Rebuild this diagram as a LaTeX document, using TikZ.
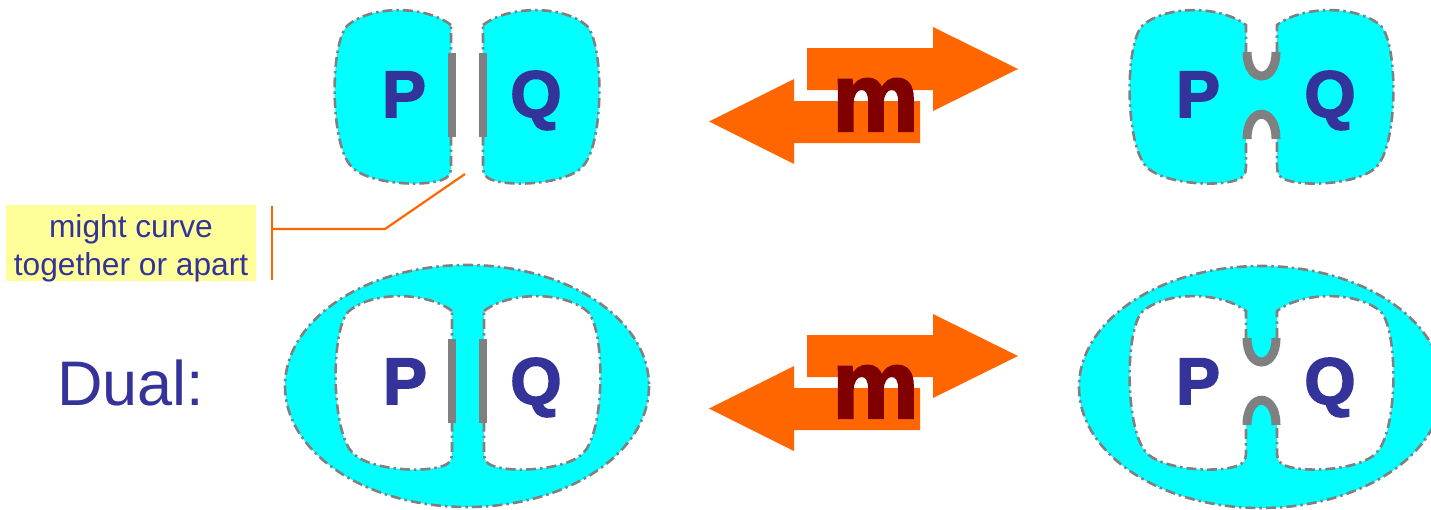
\documentclass[tikz,border=0pt]{standalone}
\usepackage{fontspec}
\setmainfont{Liberation Sans}
\newfontfamily\heavyfont[FakeBold=2.5]{Liberation Sans Bold}
\definecolor{cyanfill}{HTML}{00FFFF}
\definecolor{grayline}{HTML}{808080}
\definecolor{orangec}{HTML}{FF6600}
\definecolor{darkred}{HTML}{800000}
\definecolor{textblue}{HTML}{333399}
\definecolor{yellowbox}{HTML}{FFFF99}
\def\blobP{(451,25) .. controls (425,5) and (370,5) .. (347,26) .. controls (330,45) and (330,140) .. (350,165) .. controls (365,185) and (430,188) .. (446,178) .. controls (451,175) and (451,170) .. (451,163) -- cycle}
\def\blobQ{(483,25) .. controls (509,5) and (564,5) .. (587,26) .. controls (604,45) and (604,140) .. (584,165) .. controls (569,185) and (504,188) .. (488,178) .. controls (483,175) and (483,170) .. (483,163) -- cycle}
\def\blobPQ{(1246,53) -- (1246,25) .. controls (1220,5) and (1165,5) .. (1142,26) .. controls (1125,45) and (1125,140) .. (1145,165) .. controls (1160,185) and (1225,188) .. (1241,178) .. controls (1246,175) and (1246,170) .. (1246,163) -- (1246,138) .. controls (1246,106) and (1277,106) .. (1277,138) -- (1277,163) .. controls (1277,170) and (1277,175) .. (1282,178) .. controls (1298,188) and (1363,185) .. (1378,165) .. controls (1398,140) and (1398,45) .. (1381,26) .. controls (1358,5) and (1303,5) .. (1277,25) -- (1277,53) .. controls (1277,84) and (1246,84) .. (1246,53) -- cycle}
\begin{document}
\begin{tikzpicture}[x=1pt,y=-1pt,
  outline/.style={draw=grayline, line width=2.6pt, dash pattern=on 10pt off 4pt on 2.5pt off 4pt},
  graybar/.style={draw=grayline, line width=8pt},
  grayarc/.style={draw=grayline, line width=9pt},
  arrowfill/.style={fill=orangec},
  letter/.style={text=textblue, font=\fontsize{66}{66}\selectfont\heavyfont, inner sep=0pt, anchor=base},
  mletter/.style={text=darkred, font=\fontsize{97}{97}\selectfont\heavyfont, inner sep=0pt, anchor=base},
  labeltext/.style={text=textblue, font=\fontsize{31.7}{38}\selectfont, inner sep=0pt, anchor=base},
  labelbox/.style={fill=yellowbox, inner sep=0pt, minimum width=250pt, minimum height=76pt},
  callout/.style={draw=orangec, line width=2.2pt},
]
\useasboundingbox (0,0) rectangle (1431,509);
\clip (0,0) rectangle (1431,509);

% ---------- top left: separate P and Q ----------
\fill[cyanfill] \blobP;
\fill[cyanfill] \blobQ;
\path[outline] \blobP;
\path[outline] \blobQ;
\draw[graybar] (452,53) -- (452,137);
\draw[graybar] (482.5,53) -- (482.5,137);
\node[letter] (p1) at (404,117) {P};
\node[letter] (q1) at (536,117) {Q};

% ---------- top right: joined P and Q ----------
\fill[cyanfill] \blobPQ;
\path[outline] \blobPQ;
\draw[grayarc] (1247,52) .. controls (1247,84) and (1276,84) .. (1276,52);
\draw[grayarc] (1247,139) .. controls (1247,106) and (1276,106) .. (1276,139);
\node[letter] (p2) at (1198,117) {P};
\node[letter] (q2) at (1330,117) {Q};

% ---------- top arrows ----------
\fill[arrowfill] (807,48) -- (933,48) -- (933,27) -- (1018,69) -- (933,111) -- (933,90) -- (807,90) -- cycle;
\fill[arrowfill] (920,101) -- (794,101) -- (794,79) -- (709,121.5) -- (794,164) -- (794,143) -- (920,143) -- cycle;
\node[mletter] (m1) at (875.5,131) {m};

% ---------- label ----------
\node[labelbox] (lab) at (131,243) {};
\node[labeltext] (lab1) at (131,237) {might curve};
\node[labeltext] (lab2) at (131,275) {together or apart};
\coordinate (c1) at (272,206);
\coordinate (c2) at (272,280);
\coordinate (c3) at (272,229);
\coordinate (c4) at (385,229);
\coordinate (c5) at (465,174);
\draw[callout] (c1) -- (c2);
\draw[callout] (c3) -- (c4) -- (c5);

% ---------- Dual ----------
\node[text=textblue, font=\fontsize{63}{63}\selectfont, inner sep=0pt, anchor=base west] (dual) at (57,405) {Dual:};

% ---------- bottom left: dual of separate ----------
\fill[cyanfill] (467,386) ellipse [x radius=182, y radius=121];
\begin{scope}[yshift=-286pt, xshift=1pt]
  \fill[white] \blobP;
  \fill[white] \blobQ;
  \path[outline] \blobP;
  \path[outline] \blobQ;
\end{scope}
\path[outline] (467,386) ellipse [x radius=182, y radius=121];
\draw[graybar] (452,339) -- (452,423);
\draw[graybar] (482.5,339) -- (482.5,423);
\node[letter] (p3) at (405,404) {P};
\node[letter] (q3) at (536,404) {Q};

% ---------- bottom right: dual of joined ----------
\fill[cyanfill] (1261,387) ellipse [x radius=182, y radius=121];
\begin{scope}[yshift=-286pt]
  \fill[white] \blobPQ;
  \path[outline] \blobPQ;
  \draw[grayarc] (1247,52) .. controls (1247,84) and (1276,84) .. (1276,52);
  \draw[grayarc] (1247,139) .. controls (1247,106) and (1276,106) .. (1276,139);
\end{scope}
\path[outline] (1261,387) ellipse [x radius=182, y radius=121];
\node[letter] (p4) at (1198,404) {P};
\node[letter] (q4) at (1330,404) {Q};

% ---------- bottom arrows ----------
\fill[arrowfill] (807,335) -- (933,335) -- (933,314) -- (1018,356) -- (933,398) -- (933,377) -- (807,377) -- cycle;
\fill[arrowfill] (920,388) -- (794,388) -- (794,366) -- (709,408.5) -- (794,451) -- (794,430) -- (920,430) -- cycle;
\node[mletter] (m2) at (875.5,418) {m};
\end{tikzpicture}
\end{document}
